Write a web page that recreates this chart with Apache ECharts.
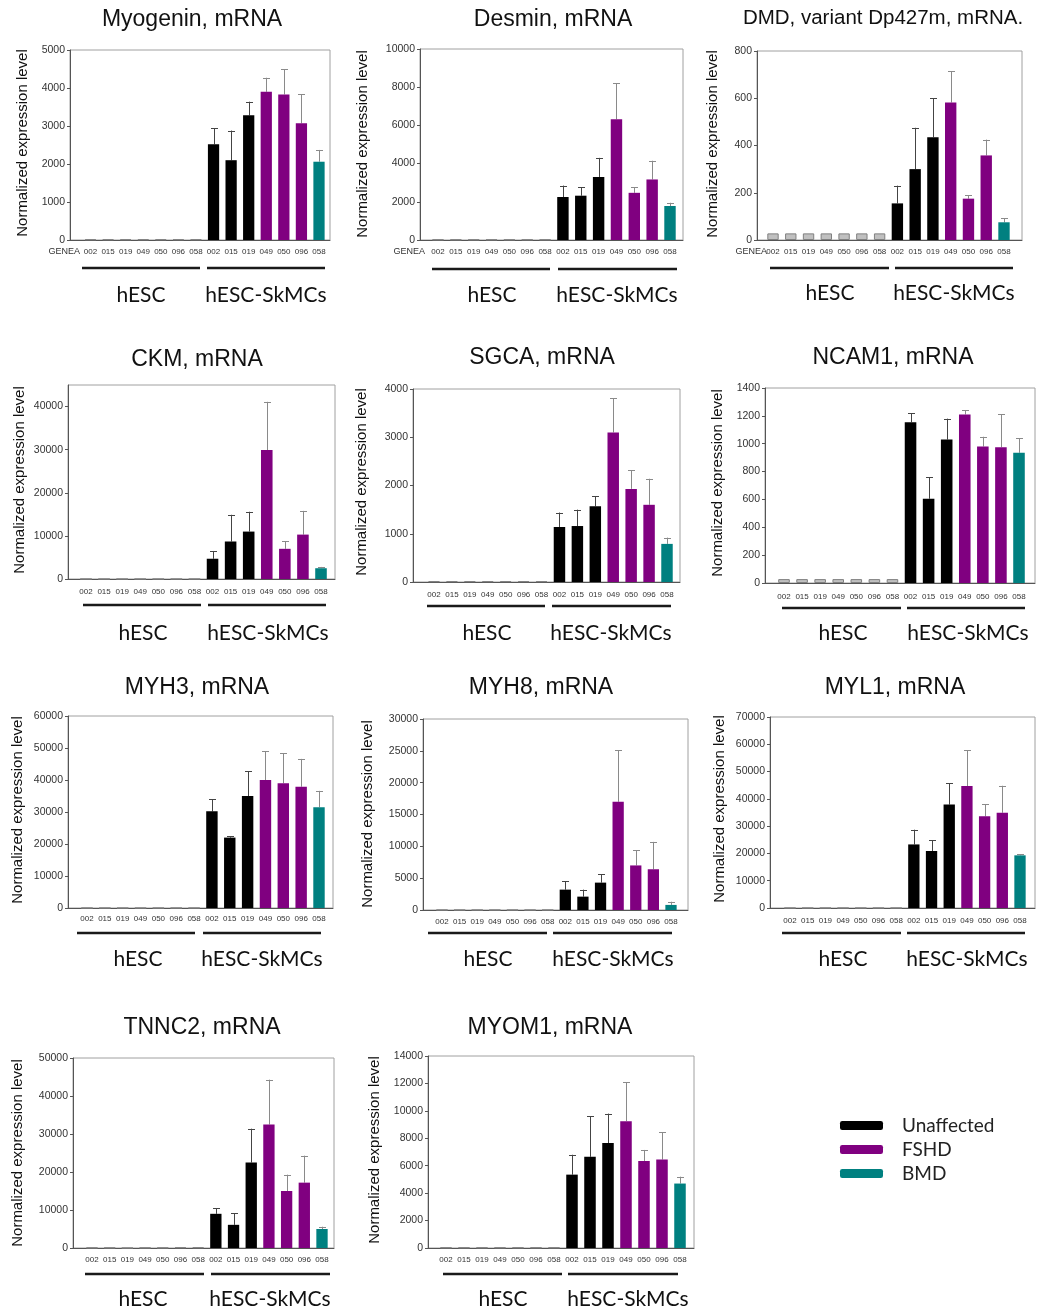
<!DOCTYPE html>
<html><head><meta charset="utf-8">
<script src="https://cdn.jsdelivr.net/npm/echarts@6/dist/echarts.min.js"></script>
<style>html,body{margin:0;padding:0;background:#fff}#c{width:1037px;height:1311px}</style>
</head><body><div id="c"></div><script>
// ---------- DATA ----------
const categories = ['002','015','019','049','050','096','058','002','015','019','049','050','096','058'];
const skmcGroups = ['Unaffected','Unaffected','Unaffected','FSHD','FSHD','FSHD','BMD'];
const groupNames = ['hESC', 'hESC-SkMCs'];
const legendNames = ['Unaffected','FSHD','BMD'];

const myogeninHESC = [15,15,15,15,15,15,15];
const myogeninSkMC = [2520,2100,3280,3900,3830,3070,2060];
const myogeninErr  = [2940,2880,3640,4270,4490,3830,2370];

const desminHESC = [20,20,20,20,20,20,20];
const desminSkMC = [2250,2320,3300,6320,2470,3170,1780];
const desminErr  = [2850,2750,4300,8200,2750,4150,1950];

const dmdHESC = [28,28,28,28,28,28,28];
const dmdSkMC = [155,300,435,582,175,358,75];
const dmdErr  = [230,475,600,715,190,425,93];

const ckmHESC = [0,0,0,0,0,0,0];
const ckmSkMC = [4700,8700,11000,29900,7000,10300,2500];
const ckmErr  = [6500,14900,15600,41100,8700,15800,2800];

const sgcaHESC = [15,15,15,15,15,15,15];
const sgcaSkMC = [1140,1160,1570,3100,1930,1600,790];
const sgcaErr  = [1440,1500,1780,3810,2320,2140,920];

const ncam1HESC = [28,28,28,28,28,28,28];
const ncam1SkMC = [1155,605,1030,1210,980,975,935];
const ncam1Err  = [1220,760,1180,1240,1050,1210,1040];

const myh3HESC = [0,0,0,0,0,0,0];
const myh3SkMC = [30200,22000,35000,40000,39000,37900,31500];
const myh3Err  = [34000,22400,42700,49000,48400,46600,36600];

const myh8HESC = [0,0,0,0,0,0,0];
const myh8SkMC = [3200,2100,4300,17000,7000,6400,800];
const myh8Err  = [4500,3200,5600,25100,9400,10700,1300];

const myl1HESC = [0,0,0,0,0,0,0];
const myl1SkMC = [23300,20900,37900,44700,33600,34900,19300];
const myl1Err  = [28700,24900,45800,57800,38000,44800,19700];

const tnnc2HESC = [60,60,0,60,60,150,150];
const tnnc2SkMC = [9000,6100,22500,32500,15000,17200,5000];
const tnnc2Err  = [10400,9200,31400,44300,19300,24300,5600];

const myom1HESC = [30,30,30,30,30,30,30];
const myom1SkMC = [5350,6650,7650,9250,6350,6450,4700];
const myom1Err  = [6800,9600,9800,12100,7150,8450,5200];

// ---------- LAYOUT ----------
const panels = [
 {title:'Myogenin, mRNA', hesc:myogeninHESC, skmc:myogeninSkMC, err:myogeninErr, max:5000, interval:1000,
  frame:[70,330,50,240], c:[90.5,319], t:[192,20], ts:23, yt:[23,143], ly:251.5, genea:80,
  gl:268, lines:[[82,200],[207,325]], gy:295, gx:[141,266]},
 {title:'Desmin, mRNA', hesc:desminHESC, skmc:desminSkMC, err:desminErr, max:10000, interval:2000,
  frame:[420,683,49,240], c:[438,670], t:[553,20], ts:23, yt:[363,144], ly:251.5, genea:425,
  gl:269, lines:[[432,550],[558,677]], gy:295, gx:[492,617]},
 {title:'DMD, variant Dp427m, mRNA.', hesc:dmdHESC, skmc:dmdSkMC, err:dmdErr, max:800, interval:200,
  frame:[757,1022,51,240], c:[773,1004], t:[883,18], ts:20.5, yt:[713,144], ly:251.5, genea:767,
  gl:268, lines:[[770,889],[895,1013]], gy:293, gx:[830,954]},
 {title:'CKM, mRNA', hesc:ckmHESC, skmc:ckmSkMC, err:ckmErr, max:45000, interval:10000, hideMax:true,
  frame:[68,335,385,579], c:[86,321], t:[197,360], ts:23, yt:[20,480], ly:592,
  gl:605, lines:[[83,201],[208,326]], gy:633, gx:[143,268]},
 {title:'SGCA, mRNA', hesc:sgcaHESC, skmc:sgcaSkMC, err:sgcaErr, max:4000, interval:1000,
  frame:[413,680,389,582], c:[434,667], t:[542,358], ts:23, yt:[362,482], ly:595,
  gl:606, lines:[[427,545],[552,671]], gy:633, gx:[487,611]},
 {title:'NCAM1, mRNA', hesc:ncam1HESC, skmc:ncam1SkMC, err:ncam1Err, max:1400, interval:200,
  frame:[765,1035,388,583], c:[784,1019], t:[893,358], ts:23, yt:[718,483], ly:597,
  gl:608, lines:[[782,901],[907,1025]], gy:633, gx:[843,968]},
 {title:'MYH3, mRNA', hesc:myh3HESC, skmc:myh3SkMC, err:myh3Err, max:60000, interval:10000,
  frame:[68,333,716,908], c:[87,319], t:[197,688], ts:23, yt:[18,810], ly:919,
  gl:933, lines:[[77,195],[203,321]], gy:959, gx:[138,262]},
 {title:'MYH8, mRNA', hesc:myh8HESC, skmc:myh8SkMC, err:myh8Err, max:30000, interval:5000,
  frame:[423,688,719,910], c:[442,671], t:[541,688], ts:23, yt:[368,814], ly:922,
  gl:933, lines:[[428,547],[553,672]], gy:959, gx:[488,613]},
 {title:'MYL1, mRNA', hesc:myl1HESC, skmc:myl1SkMC, err:myl1Err, max:70000, interval:10000,
  frame:[770,1035,717,908], c:[790,1020], t:[895,688], ts:23, yt:[720,809], ly:921,
  gl:933, lines:[[782,901],[907,1025]], gy:959, gx:[843,967]},
 {title:'TNNC2, mRNA', hesc:tnnc2HESC, skmc:tnnc2SkMC, err:tnnc2Err, max:50000, interval:10000,
  frame:[73,334,1058,1248], c:[92,322], t:[202,1028], ts:23, yt:[18,1153], ly:1260,
  gl:1274, lines:[[85,204],[211,330]], gy:1299, gx:[143,270]},
 {title:'MYOM1, mRNA', hesc:myom1HESC, skmc:myom1SkMC, err:myom1Err, max:14000, interval:2000,
  frame:[428,694,1056,1248], c:[446,680], t:[550,1028], ts:23, yt:[375,1150], ly:1260,
  gl:1274, lines:[[443,562],[568,678]], gy:1299, gx:[503,628]}
];

const COLORS = {hESC:'#c0c0c0', Unaffected:'#000000', FSHD:'#800080', BMD:'#008080'};
const ARIAL = 'Liberation Sans';
const CAL = 'Lato';

const grid=[], xAxis=[], yAxis=[], series=[], graphic=[];

panels.forEach((p, i) => {
  const [L, R, T, B] = p.frame;
  const s = (p.c[1] - p.c[0]) / 13;
  const dl = p.c[0] - s/2, dr = p.c[1] + s/2;
  const gf = grid.length;
  grid.push({left:L, top:T, width:R-L, height:B-T, show:true, borderColor:'#a0a0a0', borderWidth:1, containLabel:false});
  grid.push({left:dl, top:T, width:dr-dl, height:B-T, containLabel:false});
  const ax = xAxis.length;
  xAxis.push({gridIndex:gf, type:'category', data:categories, axisLabel:{show:false}, axisTick:{show:false},
    axisLine:{lineStyle:{color:'#555', width:1}}});
  xAxis.push({gridIndex:gf+1, type:'category', data:categories,
    axisLine:{show:false}, axisTick:{show:false},
    axisLabel:{interval:0, fontSize:8, fontFamily:ARIAL, color:'#333', margin:p.ly - B - 4}});
  yAxis.push({gridIndex:gf, type:'value', min:0, max:p.max, interval:p.interval, splitLine:{show:false},
    axisLine:{show:true, lineStyle:{color:'#555'}}, axisTick:{show:true, length:3, lineStyle:{color:'#555'}},
    axisLabel:{fontSize:10.5, fontFamily:ARIAL, color:'#333', margin:5, showMaxLabel: !p.hideMax, formatter: v => String(v)}});
  yAxis.push({gridIndex:gf+1, type:'value', min:0, max:p.max, show:false, splitLine:{show:false}});

  const hescData = p.hesc.concat(Array(7).fill('-'));
  series.push({type:'bar', name:'hESC', xAxisIndex:ax+1, yAxisIndex:ax+1, data:hescData, barWidth:'64%', barGap:'-100%',
    itemStyle:{color:COLORS.hESC, borderColor:'#808080', borderWidth:1}, silent:true});
  legendNames.forEach(g => {
    const d = Array(7).fill('-').concat(p.skmc.map((v,j) => skmcGroups[j] === g ? v : '-'));
    series.push({type:'bar', name:g, xAxisIndex:ax+1, yAxisIndex:ax+1, data:d, barWidth:'64%', barGap:'-100%',
      itemStyle:{color:COLORS[g]}, silent:true});
  });
  series.push({type:'custom', name:'err'+i, xAxisIndex:ax+1, yAxisIndex:ax+1, silent:true, z:1,
    data:p.skmc.map((v,j) => [7+j, v, p.err[j]]),
    renderItem:(params, api) => {
      const x = api.value(0);
      const p0 = api.coord([x, api.value(1)]);
      const p1 = api.coord([x, api.value(2)]);
      const col = x < 10 ? '#444' : '#8a8a8a';
      const xx = Math.round(p0[0]) + 0.5;
      return {type:'group', children:[
        {type:'line', shape:{x1:xx, y1:p0[1], x2:xx, y2:p1[1]}, style:{stroke:col, lineWidth:1}},
        {type:'line', shape:{x1:xx-3.5, y1:Math.round(p1[1])+0.5, x2:xx+3.5, y2:Math.round(p1[1])+0.5}, style:{stroke:col, lineWidth:1}}
      ]};
    }});

  graphic.push({type:'text', x:p.t[0], y:p.t[1], style:{text:p.title, font:`${p.ts}px "${ARIAL}"`, fill:'#111', textAlign:'center', textVerticalAlign:'middle'}});
  graphic.push({type:'text', x:p.yt[0], y:p.yt[1], rotation:Math.PI/2,
    style:{text:'Normalized expression level', font:`15px "${ARIAL}"`, fill:'#111', textAlign:'center', textVerticalAlign:'middle'}});
  if (p.genea) graphic.push({type:'text', x:p.genea, y:p.ly, style:{text:'GENEA', font:`9px "${ARIAL}"`, fill:'#333', textAlign:'right', textVerticalAlign:'middle'}});
  p.lines.forEach((ln, k) => {
    graphic.push({type:'line', shape:{x1:ln[0], y1:p.gl, x2:ln[1], y2:p.gl}, style:{stroke:'#1a1a1a', lineWidth:2.5}});
    graphic.push({type:'text', x:p.gx[k], y:p.gy, style:{text:groupNames[k], font:`21px "${CAL}"`, fill:'#111', textAlign:'center', textVerticalAlign:'middle'}});
  });
});

const chart = echarts.init(document.getElementById('c'), null, {renderer:'canvas'});
chart.setOption({
  animation:false,
  backgroundColor:'#fff',
  grid, xAxis, yAxis, series, graphic,
  legend:{data:legendNames, orient:'vertical', left:835, top:1111, icon:'roundRect', itemWidth:43, itemHeight:9, itemGap:5,
    selectedMode:false, textStyle:{fontSize:19, fontFamily:CAL, color:'#222', lineHeight:19, padding:[0,0,0,14]}}
});
</script></body></html>
